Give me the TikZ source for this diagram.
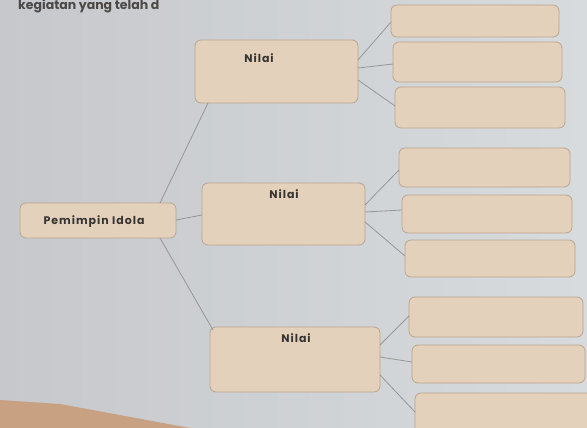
\documentclass[tikz,border=0pt]{standalone}
\usepackage{fontspec}
\setmainfont{Poppins}
\newfontfamily\lblfont[LetterSpace=9]{Poppins}
\begin{document}
\begin{tikzpicture}[x=1pt,y=-1pt,
  box/.style={draw=boxline,fill=boxfill,rounded corners=6pt,line width=0.8pt},
  conn/.style={draw=linecol,line width=0.8pt},
  lbl/.style={font=\lblfont\fontsize{11}{12}\selectfont\bfseries,text=textcol,inner sep=0pt}]
\definecolor{boxfill}{RGB}{227,209,188}
\definecolor{boxline}{RGB}{188,165,142}
\definecolor{linecol}{RGB}{150,150,148}
\definecolor{textcol}{RGB}{55,52,50}
\definecolor{bgL}{RGB}{198,200,204}
\definecolor{bgR}{RGB}{216,219,222}
\definecolor{tabletan}{RGB}{200,160,130}
\useasboundingbox (0,0) rectangle (587,428);
\clip (0,0) rectangle (587,428);
\shade[left color=bgL,right color=bgR] (0,0) rectangle (587,428);
\fill[tabletan] (0,400) -- (60,404) -- (190,428) -- (0,428) -- cycle;
\node[anchor=base west,font=\fontsize{12.5}{13}\selectfont\bfseries,text=textcol!90,inner sep=0pt] (top) at (18,10) {kegiatan yang telah d};
% main nodes
\path[box] (20,203) rectangle (176,238);
\node[lbl] (root) at (94,222) {Pemimpin Idola};
\coordinate (rootR) at (176,220);
\coordinate (rootT) at (160,203);
\coordinate (rootB) at (160,238);
% Nilai boxes
\path[box] (195,40) rectangle (358,103);
\node[lbl] (n1) at (259,58) {Nilai};
\path[box] (202,183) rectangle (365,245);
\node[lbl] (n2) at (284,194) {Nilai};
\path[box] (210,327) rectangle (380,392);
\node[lbl] (n3) at (296,338) {Nilai};
\coordinate (n1B) at (208,103);
\coordinate (n2L) at (202,215);
\coordinate (n3L) at (213,330);
% right boxes
\path[box] (391,5) rectangle (559,37);
\path[box] (393,42) rectangle (562,82);
\path[box] (395,87) rectangle (565,128);
\path[box] (399,148) rectangle (570,187);
\path[box] (402,195) rectangle (572,233);
\path[box] (405,240) rectangle (575,277);
\path[box] (409,297) rectangle (583,337);
\path[box] (412,345) rectangle (585,383);
\path[box] (415,393) rectangle (600,440);
% connectors
\draw[conn] (rootT) -- (n1B);
\draw[conn] (rootR) -- (n2L);
\draw[conn] (rootB) -- (n3L);
\draw[conn] (358,60) -- (391,22);
\draw[conn] (358,68) -- (393,64);
\draw[conn] (358,80) -- (395,106);
\draw[conn] (365,205) -- (399,170);
\draw[conn] (365,212) -- (402,210);
\draw[conn] (365,222) -- (405,256);
\draw[conn] (380,345) -- (409,316);
\draw[conn] (380,357) -- (412,362);
\draw[conn] (380,375) -- (415,412);
\end{tikzpicture}
\end{document}
